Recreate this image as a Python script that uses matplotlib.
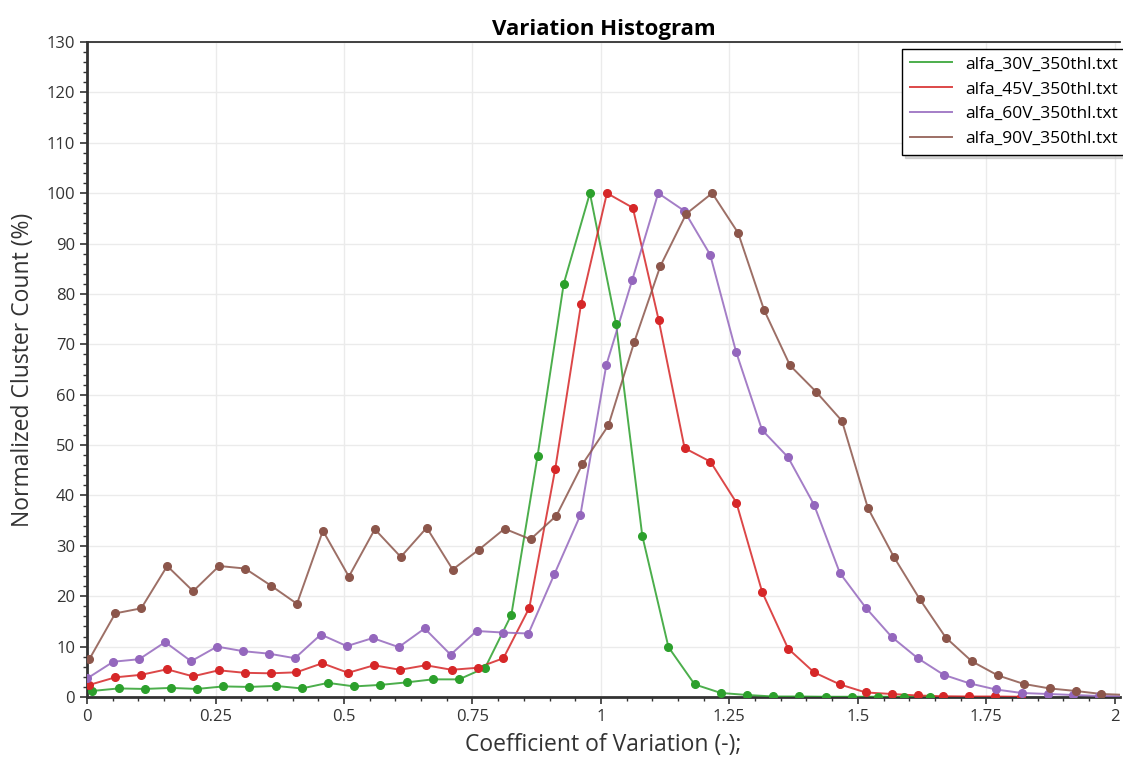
import numpy as np
import matplotlib.pyplot as plt
from matplotlib.ticker import MultipleLocator

plt.rcParams['font.family'] = ['Open Sans', 'DejaVu Sans']

# Series labels and colours
labels = ['alfa_30V_350thl.txt', 'alfa_45V_350thl.txt',
          'alfa_60V_350thl.txt', 'alfa_90V_350thl.txt']
colors = ['#2ca02c', '#d62728', '#9467bd', '#8c564b']

# Bin centres: first bin and bin width of each series
x_start = [0.0103, 0.0045, 0.0005, 0.0045]
x_step = [0.05096, 0.05036, 0.0505, 0.0505]

# Normalized cluster count (%) per bin
y_30v = [1.2, 1.7, 1.6, 1.8, 1.6, 2.1, 2.0, 2.2, 1.7, 2.8, 2.1, 2.4, 2.9, 3.5, 3.5,
         5.8, 16.3, 47.8, 82.0, 100.0, 74.0, 32.0, 9.9, 2.5, 0.8, 0.4, 0.1, 0.1,
         0.05, 0.05, 0.05, 0.05, 0.05]
y_45v = [2.4, 3.9, 4.4, 5.5, 4.1, 5.3, 4.8, 4.7, 4.9, 6.7, 4.8, 6.3, 5.4, 6.3, 5.4,
         5.8, 7.7, 17.7, 45.2, 78.0, 100.0, 97.1, 74.8, 49.4, 46.7, 38.6, 20.8, 9.6,
         4.9, 2.5, 0.9, 0.6, 0.3, 0.15, 0.1, 0.1, 0.05]
y_60v = [3.7, 7.0, 7.5, 10.9, 7.1, 10.0, 9.1, 8.6, 7.7, 12.4, 10.1, 11.7, 9.9, 13.6, 8.4,
         13.1, 12.8, 12.6, 24.4, 36.1, 65.9, 82.8, 100.0, 96.5, 87.8, 68.5, 53.0, 47.6,
         38.2, 24.6, 17.7, 11.9, 7.7, 4.4, 2.7, 1.5, 0.8, 0.6, 0.4, 0.2, 0.1]
y_90v = [7.5, 16.6, 17.6, 26.0, 21.0, 26.0, 25.5, 22.1, 18.5, 33.0, 23.9, 33.3, 27.8, 33.6, 25.3,
         29.2, 33.4, 31.3, 36.0, 46.2, 53.9, 70.5, 85.5, 95.9, 100.0, 92.1, 76.8, 65.8,
         60.6, 54.8, 37.5, 27.8, 19.4, 11.8, 7.1, 4.3, 2.6, 1.7, 1.2, 0.6, 0.4]
series = [y_30v, y_45v, y_60v, y_90v]

fig = plt.figure(figsize=(11.23, 7.61), dpi=100)
ax = fig.add_axes([0.0775, 0.0841, 0.9198, 0.8607])

for y, x0, dx, c, lab in zip(series, x_start, x_step, colors, labels):
    x = x0 + dx * np.arange(len(y))
    ax.plot(x, y, color=c, lw=1.4, alpha=0.85, label=lab, zorder=3)
    ax.plot(x, y, ls='none', marker='o', ms=5.5, color=c, zorder=4)

ax.set_xlim(0, 2.01)
ax.set_ylim(0, 130)
ax.xaxis.set_major_locator(MultipleLocator(0.25))
ax.xaxis.set_minor_locator(MultipleLocator(0.05))
ax.yaxis.set_major_locator(MultipleLocator(10))
ax.yaxis.set_minor_locator(MultipleLocator(2))
ax.set_xticks([0, 0.25, 0.5, 0.75, 1, 1.25, 1.5, 1.75, 2])
ax.set_xticklabels(['0', '0.25', '0.5', '0.75', '1', '1.25', '1.5', '1.75', '2'])

ax.grid(True, which='major', color='#ebebeb', lw=1, zorder=0)
ax.set_axisbelow(True)
ax.tick_params(which='major', length=5, width=1.2, colors='#333333', labelsize=12)
ax.tick_params(which='minor', length=3, width=1, colors='#333333')

for side in ['left', 'bottom']:
    ax.spines[side].set_linewidth(2)
    ax.spines[side].set_color('#333333')
ax.spines['top'].set_linewidth(1.3)
ax.spines['top'].set_color('#333333')
ax.spines['right'].set_visible(False)

ax.set_title('Variation Histogram', fontsize=16, fontweight='bold', pad=5)
ax.set_xlabel('Coefficient of Variation (-);', fontsize=16.5, color='#333333', labelpad=6)
ax.set_ylabel('Normalized Cluster Count (%)', fontsize=16.5, color='#333333', labelpad=8)

leg = ax.legend(loc='upper right', bbox_to_anchor=(1.006, 0.99), fontsize=12.5,
                frameon=True, fancybox=False,
                shadow={'color': '#bbbbbb', 'alpha': 0.6, 'ox': 2, 'oy': -2},
                borderaxespad=0, handlelength=2.4,
                labelspacing=0.5, borderpad=0.45)
leg.get_frame().set_edgecolor('black')
leg.get_frame().set_linewidth(1)

fig.savefig('out.png', dpi=100)
